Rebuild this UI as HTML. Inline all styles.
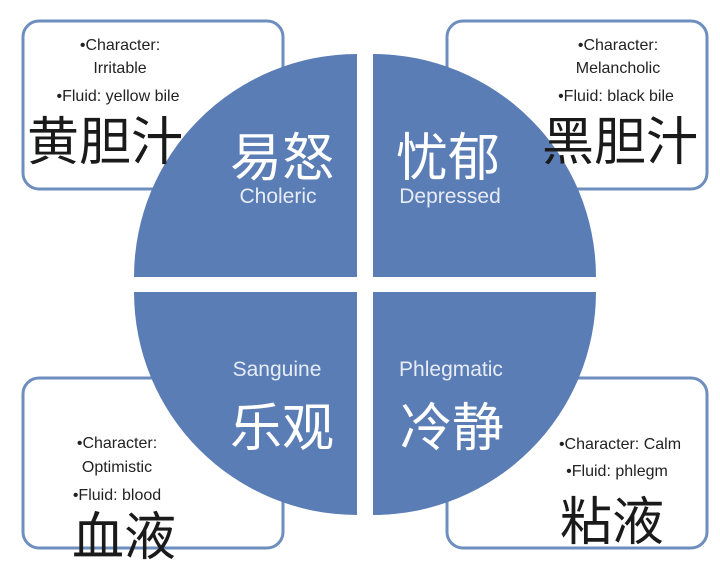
<!DOCTYPE html>
<html><head><meta charset="utf-8"><style>
html,body{margin:0;padding:0;background:#fff;}
svg{display:block;}
text{font-family:"Liberation Sans","Noto Sans CJK SC",sans-serif;}
</style></head><body>
<svg width="720" height="571" viewBox="0 0 720 571" xmlns="http://www.w3.org/2000/svg">
<rect width="720" height="571" fill="#fff"/>
<g fill="#fff" stroke="#6e8ebd" stroke-width="3">
<rect x="23" y="21" width="260" height="168" rx="16"/>
<rect x="447" y="21" width="260" height="168" rx="16"/>
<rect x="23" y="378" width="260" height="170" rx="16"/>
<rect x="447" y="378" width="260" height="170" rx="16"/>
</g>
<g fill="#5b7db6">
<path d="M357 277 L134 277 A223 223 0 0 1 357 54 Z"/>
<path d="M373 277 L373 54 A223 223 0 0 1 596 277 Z"/>
<path d="M357 292 L357 515 A223 223 0 0 1 134 292 Z"/>
<path d="M373 292 L596 292 A223 223 0 0 1 373 515 Z"/>
</g>
<g fill="#222" font-size="16" text-anchor="middle">
<text x="120" y="50">•Character:</text>
<text x="120" y="73">Irritable</text>
<text x="118" y="101">•Fluid: yellow bile</text>
<text x="618" y="50">•Character:</text>
<text x="618" y="73">Melancholic</text>
<text x="616" y="101">•Fluid: black bile</text>
<text x="117" y="448">•Character:</text>
<text x="117" y="472">Optimistic</text>
<text x="117" y="500">•Fluid: blood</text>
<text x="620" y="449">•Character: Calm</text>
<text x="617" y="476">•Fluid: phlegm</text>
</g>
<g fill="#1a1a1a" font-size="52" text-anchor="middle">
<text x="105" y="160">黄胆汁</text>
<text x="620" y="160">黑胆汁</text>
<text x="124" y="555">血液</text>
<text x="612" y="540">粘液</text>
</g>
<g fill="#fff" text-anchor="middle">
<text x="282" y="176" font-size="52">易怒</text>
<text x="278" y="203" font-size="21" fill="#e6ecf6">Choleric</text>
<text x="448" y="176" font-size="52">忧郁</text>
<text x="450" y="203" font-size="21" fill="#e6ecf6">Depressed</text>
<text x="277" y="376" font-size="21" fill="#e6ecf6">Sanguine</text>
<text x="282" y="446" font-size="52">乐观</text>
<text x="451" y="376" font-size="21" fill="#e6ecf6">Phlegmatic</text>
<text x="452" y="446" font-size="52">冷静</text>
</g>
</svg>
</body></html>
